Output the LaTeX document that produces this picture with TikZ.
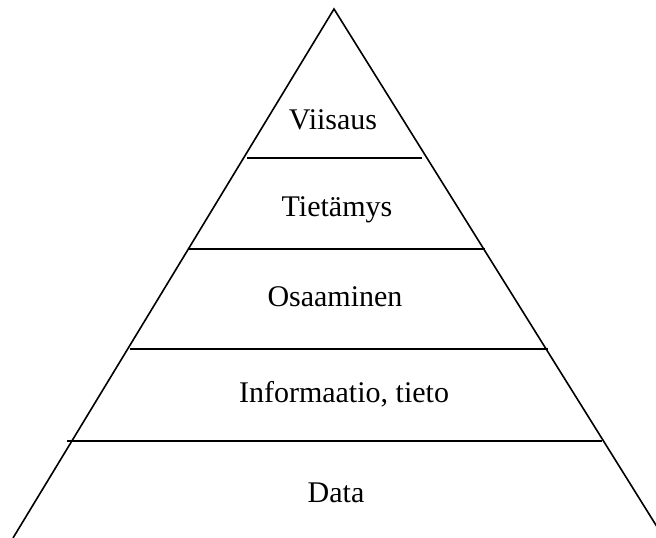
\documentclass[tikz,border=0pt]{standalone}
\usepackage{fontspec}
\setmainfont{Liberation Serif}
\begin{document}
\begin{tikzpicture}[x=1pt,y=1pt,
  edge/.style={line width=1.6pt,black},
  lbl/.style={anchor=base,font=\fontsize{30}{36}\selectfont,inner sep=0pt}]
\useasboundingbox (0,0) rectangle (656,538);
\clip (0,0) rectangle (656,538);
\coordinate (apex) at (334,529);
\coordinate (bl) at (13,0);
\coordinate (br) at (664,0);
\draw[edge,line join=miter] (bl) -- (apex) -- (br);
\coordinate (l1a) at (247,380); \coordinate (l1b) at (422,380);
\coordinate (l2a) at (189,289); \coordinate (l2b) at (485,289);
\coordinate (l3a) at (130,189); \coordinate (l3b) at (548,189);
\coordinate (l4a) at (67,97);   \coordinate (l4b) at (602,97);
\draw[edge] (l1a) -- (l1b);
\draw[edge] (l2a) -- (l2b);
\draw[edge] (l3a) -- (l3b);
\draw[edge] (l4a) -- (l4b);
\node[lbl] (viisaus) at (333,408) {Viisaus};
\node[lbl] (tietamys) at (337,321) {Tietämys};
\node[lbl] (osaaminen) at (335,231) {Osaaminen};
\node[lbl] (info) at (344,135) {Informaatio, tieto};
\node[lbl] (data) at (336,35) {Data};
\end{tikzpicture}
\end{document}
